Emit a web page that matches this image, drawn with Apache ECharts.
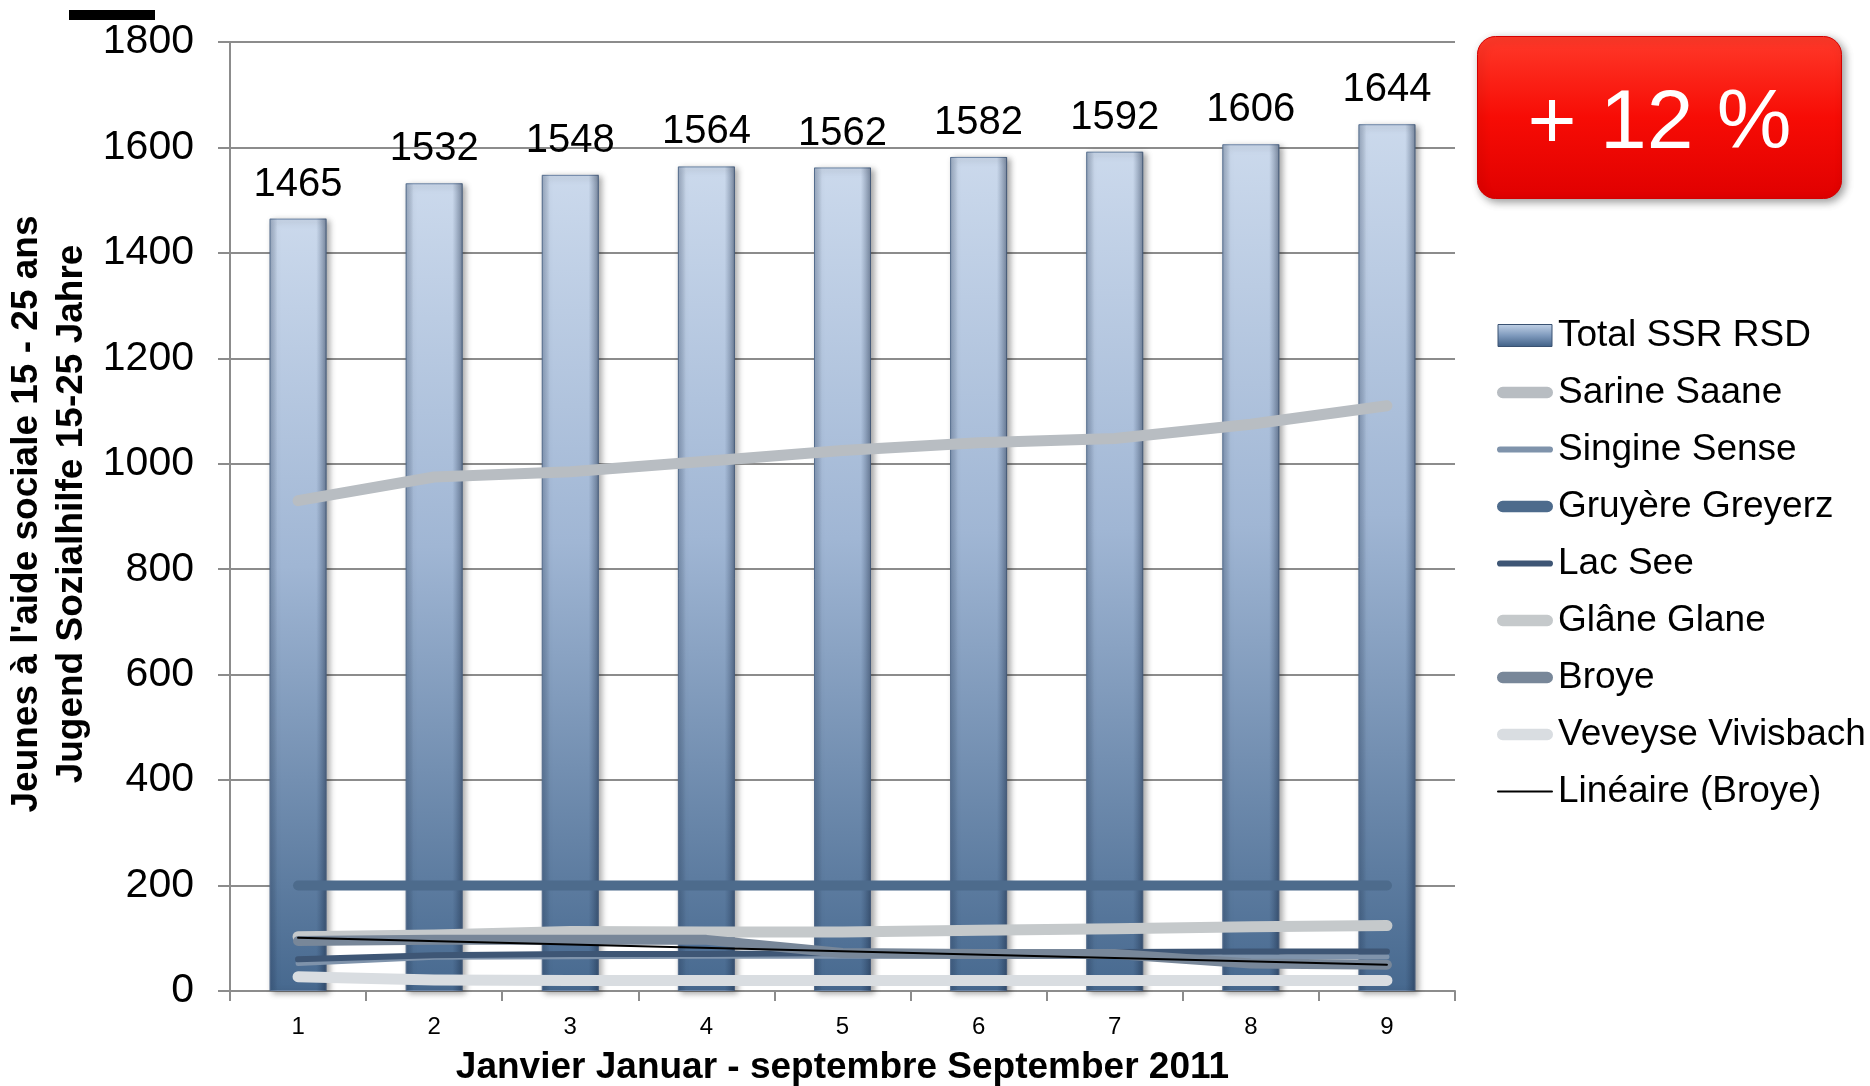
<!DOCTYPE html>
<html>
<head>
<meta charset="utf-8">
<script src="https://cdn.jsdelivr.net/npm/echarts@6/dist/echarts.min.js"></script>
<style>
html,body{margin:0;padding:0;background:#fff;}
#chart{width:1870px;height:1086px;}
</style>
</head>
<body>
<div id="chart"></div>
<script>
var months = ['1','2','3','4','5','6','7','8','9'];
var totalSSR = [1465,1532,1548,1564,1562,1582,1592,1606,1644];
var sarine = [930,975,985,1005,1025,1040,1048,1075,1110];
var singine = [52,64,65,66,66,66,66,65,65];
var gruyere = [200,200,200,200,200,200,200,200,200];
var lac = [60,68,70,70,72,72,74,75,75];
var glane = [103,106,113,112,112,115,118,122,124];
var broye = [95,97,97,97,72,70,70,52,50];
var veveyse = [27,21,20,20,20,20,20,20,20];
var trendBroye = [[0,101],[8,50]];
var yTicks = [0,200,400,600,800,1000,1200,1400,1600,1800];
var badgeText = '+ 12 %';
var xTitle = 'Janvier Januar - septembre September 2011';
var yTitle1 = "Jeunes à l'aide sociale 15 - 25 ans";
var yTitle2 = 'Jugend Sozialhilfe 15-25 Jahre';

var FONT = "'Liberation Sans', Arial, sans-serif";
var chart = echarts.init(document.getElementById('chart'));

function lineSeries(name, data, color, width, z) {
  return {
    name: name, type: 'line', data: data, symbol: 'none', z: z,
    lineStyle: {color: color, width: width, cap: 'round', join: 'round'},
    itemStyle: {color: color},
    emphasis: {disabled: true}
  };
}
// rounded bar-shaped legend icon of a given thickness (54 wide)
function pill(t) {
  var r = t / 2, w = 54;
  return 'path://M' + r + ',0 L' + (w - r) + ',0 A' + r + ',' + r + ' 0 0 1 ' + (w - r) + ',' + t +
    ' L' + r + ',' + t + ' A' + r + ',' + r + ' 0 0 1 ' + r + ',0 Z';
}
function legendLine(name, color, t) {
  return {name: name, icon: pill(t), itemStyle: {color: color, borderWidth: 0}};
}

var barGrad = new echarts.graphic.LinearGradient(0,0,0,1,[
  {offset:0,color:'#cbd9ec'},
  {offset:0.45,color:'#a0b6d4'},
  {offset:1,color:'#47698f'}
]);
var bevelGrad = new echarts.graphic.LinearGradient(0,0,1,0,[
  {offset:0,color:'rgba(30,50,80,0.30)'},
  {offset:0.14,color:'rgba(30,50,80,0.0)'},
  {offset:0.82,color:'rgba(30,50,80,0.0)'},
  {offset:1,color:'rgba(20,35,60,0.45)'}
]);

var option = {
  backgroundColor: '#ffffff',
  animation: false,
  textStyle: {fontFamily: FONT},
  grid: {left: 230, right: 415, top: 42, bottom: 95, outerBoundsMode: 'none'},
  legend: {
    orient: 'vertical', left: 1492, top: 312, itemGap: 20,
    itemWidth: 56, itemHeight: 22,
    textStyle: {fontFamily: FONT, fontSize: 37, color: '#000'},
    data: [
      {name:'Total SSR RSD', icon:'path://M0,0 L54,0 L54,22 L0,22 Z',
        itemStyle:{color:new echarts.graphic.LinearGradient(0,0,0,1,[{offset:0,color:'#c3d3e8'},{offset:0.5,color:'#7f9abd'},{offset:1,color:'#3f5f85'}]), borderColor:'#3a5272', borderWidth:1}},
      legendLine('Sarine Saane', '#b8bdc2', 11),
      legendLine('Singine Sense', '#7f93ab', 6),
      legendLine('Gruyère Greyerz', '#4d6b8c', 11),
      legendLine('Lac See', '#3e5675', 6),
      legendLine('Glâne Glane', '#c5c9cb', 11),
      legendLine('Broye', '#788799', 11),
      legendLine('Veveyse Vivisbach', '#d9dde1', 11),
      legendLine('Linéaire (Broye)', '#000000', 2)
    ]
  },
  xAxis: {
    type: 'category', data: months,
    axisLine: {lineStyle: {color: '#8c8c8c', width: 2}},
    axisTick: {show: true, length: 10, lineStyle: {color: '#8c8c8c', width: 2}},
    axisLabel: {fontSize: 24, color: '#000', margin: 24, fontFamily: FONT},
    name: xTitle, nameLocation: 'middle', nameGap: 58,
    nameTextStyle: {fontSize: 37, fontWeight: 'bold', color: '#000', fontFamily: FONT}
  },
  yAxis: {
    type: 'value', min: 0, max: 1800, interval: 200,
    axisLine: {show: true, lineStyle: {color: '#8c8c8c', width: 2}},
    axisTick: {show: true, length: 12, lineStyle: {color: '#8c8c8c', width: 2}},
    splitLine: {lineStyle: {color: '#8c8c8c', width: 2}},
    axisLabel: {fontSize: 41, color: '#000', margin: 36, fontFamily: FONT,
      formatter: function(v){ return yTicks.indexOf(v) >= 0 ? String(v) : ''; }}
  },
  series: [
    {
      name: 'Total SSR RSD', type: 'bar', data: totalSSR, barWidth: 57, z: 2,
      itemStyle: {color: barGrad, borderColor: '#6b84a5', borderWidth: 1,
        shadowColor: 'rgba(0,0,0,0.35)', shadowBlur: 6, shadowOffsetX: 3, shadowOffsetY: 2},
      label: {show: true, position: 'top', distance: 14, fontSize: 40, color: '#000', fontFamily: FONT},
      emphasis: {disabled: true}
    },
    {
      name: 'bevel', type: 'bar', data: totalSSR, barWidth: 57, barGap: '-100%', z: 2, silent: true,
      itemStyle: {color: bevelGrad}, emphasis: {disabled: true}, tooltip: {show: false}
    },
    lineSeries('Sarine Saane', sarine, '#b8bdc2', 11, 3),
    lineSeries('Singine Sense', singine, '#7f93ab', 5, 4),
    lineSeries('Gruyère Greyerz', gruyere, '#4d6b8c', 10, 5),
    lineSeries('Lac See', lac, '#3e5675', 6, 6),
    lineSeries('Glâne Glane', glane, '#c5c9cb', 11, 7),
    lineSeries('Broye', broye, '#788799', 10, 8),
    lineSeries('Veveyse Vivisbach', veveyse, '#d9dde1', 11, 9),
    lineSeries('Linéaire (Broye)', trendBroye, '#000000', 2, 10)
  ],
  graphic: [
    {type:'rect', left: 69, top: 10, shape:{width:86, height:10}, style:{fill:'#000'}},
    {type:'text', x: 27, y: 514, rotation: Math.PI/2,
      style:{text: yTitle1, font: 'bold 37px ' + FONT, fill:'#000', align:'center', verticalAlign:'middle'}},
    {type:'text', x: 72, y: 514, rotation: Math.PI/2,
      style:{text: yTitle2, font: 'bold 37px ' + FONT, fill:'#000', align:'center', verticalAlign:'middle'}},
    {type:'group', left: 1477, top: 36, children: [
      {type:'rect', shape:{x:0,y:0,width:364,height:162,r:18},
        style:{fill: new echarts.graphic.LinearGradient(0,0,0,1,[{offset:0,color:'#ff3a2a'},{offset:0.5,color:'#f70c05'},{offset:1,color:'#e00000'}]),
          stroke:'#d40000', lineWidth:1, shadowColor:'rgba(0,0,0,0.4)', shadowBlur:8, shadowOffsetX:3, shadowOffsetY:3}},
      {type:'text', x: 182, y: 88,
        style:{text: badgeText, font: '84px ' + FONT, fill:'#fff', align:'center', verticalAlign:'middle'}}
    ]}
  ]
};
chart.setOption(option);
</script>
</body>
</html>
